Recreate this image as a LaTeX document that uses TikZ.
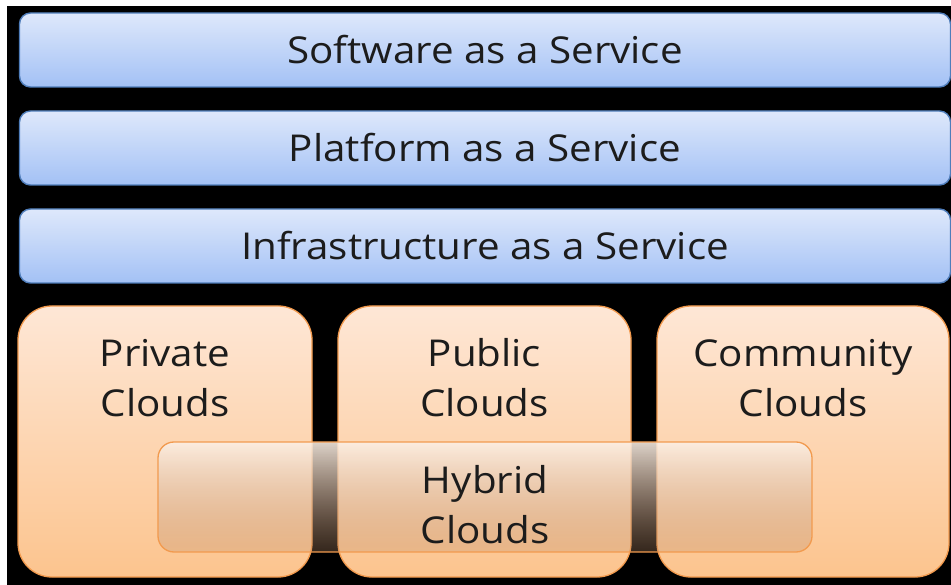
\documentclass[tikz,border=0pt]{standalone}
\usepackage{fontspec}
\setmainfont{Open Sans}[FakeStretch=1.09]
\usetikzlibrary{fadings}
\definecolor{barTop}{HTML}{DEE8FB}
\definecolor{barBot}{HTML}{A3C1F5}
\definecolor{barLine}{HTML}{4F7DBA}
\definecolor{orTop}{HTML}{FEE7D6}
\definecolor{orBot}{HTML}{FCC48E}
\definecolor{orLine}{HTML}{F29A4E}
\definecolor{hyTop}{HTML}{FCF0E5}
\definecolor{hyBot}{HTML}{BC8C68}
\definecolor{txt}{HTML}{1C1C1C}
\tikzfading[name=hyfade, top color=transparent!12, bottom color=transparent!72]
\tikzset{
  bar/.style={draw=barLine, line width=1.4pt, rounded corners=11pt, top color=barTop, bottom color=barBot,
    minimum width=931pt, minimum height=74pt, inner sep=0pt, text=txt, font=\fontsize{37}{50}\selectfont},
  cloudbox/.style={draw=orLine, line width=1.3pt, rounded corners=34pt, top color=orTop, bottom color=orBot,
    minimum height=271pt, inner sep=0pt},
  cloudtext/.style={text=txt, align=center, font=\fontsize{37}{50}\selectfont, inner sep=0pt},
}
\begin{document}
\begin{tikzpicture}[x=1pt,y=-1pt]
\useasboundingbox (0,0) rectangle (951,585);
\fill[white] (0,0) rectangle (951,585);
\fill[black] (7,6) rectangle (951,585);
\node[bar] (saas) at (485,50) {Software as a Service};
\node[bar] (paas) at (485,148) {Platform as a Service};
\node[bar] (iaas) at (485,246) {Infrastructure as a Service};
\node[cloudbox, minimum width=294pt] (priv) at (165,441.5) {};
\node[cloudbox, minimum width=293pt] (pub) at (484.5,441.5) {};
\node[cloudbox, minimum width=292pt] (comm) at (803,441.5) {};
\node[cloudtext] (privtxt) at (165,378) {Private\\Clouds};
\node[cloudtext] (pubtxt) at (484.5,378) {Public\\Clouds};
\node[cloudtext] (commtxt) at (803,378) {Community\\Clouds};
\shade[top color=hyTop, bottom color=hyBot, path fading=hyfade, fit fading=true, rounded corners=16pt]
  (158,442) rectangle (812,552);
\node[draw=orLine, line width=1.3pt, rounded corners=16pt, minimum width=654pt, minimum height=110pt, inner sep=0pt] (hyb) at (485,497) {};
\node[cloudtext] (hybtxt) at (485,505) {Hybrid\\Clouds};
\end{tikzpicture}
\end{document}
